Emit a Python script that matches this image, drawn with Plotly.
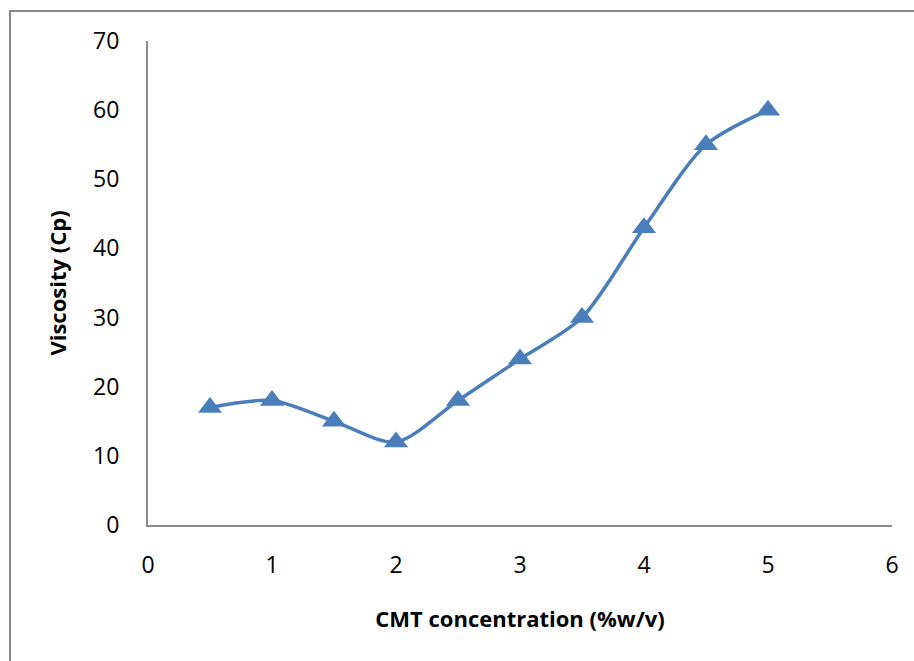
import plotly.graph_objects as go

concentration = [0.5, 1, 1.5, 2, 2.5, 3, 3.5, 4, 4.5, 5]
viscosity = [17, 18, 15, 12, 18, 24, 30, 43, 55, 60]
x_ticks = [0, 1, 2, 3, 4, 5, 6]
y_ticks = [0, 10, 20, 30, 40, 50, 60, 70]

color = "#4A7EBB"
font_family = "Open Sans, Liberation Sans, sans-serif"

fig = go.Figure()
fig.add_trace(go.Scatter(
    x=concentration, y=viscosity, mode="lines+markers",
    line=dict(color=color, width=3.5, shape="spline", smoothing=0.8),
    marker=dict(symbol="triangle-up", size=21, color=color),
    showlegend=False, cliponaxis=False,
))

fig.update_layout(
    width=914, height=661,
    margin=dict(l=148, r=22, t=41, b=136),
    paper_bgcolor="white", plot_bgcolor="white",
    font=dict(family=font_family, size=22, color="black"),
    shapes=[dict(type="rect", xref="paper", yref="paper",
                 x0=-138/744, x1=1.2, y0=-0.5, y1=(525-11)/484,
                 line=dict(color="#888888", width=2), layer="below")],
)
fig.update_xaxes(
    range=[0, 6], tickvals=x_ticks, showgrid=False, zeroline=False,
    showline=True, linecolor="#8c8c8c", linewidth=2, ticks="",
    tickfont=dict(size=23, family=font_family, color="black"),
    ticklabelstandoff=18,
    title=dict(text="<b>CMT concentration (%w/v)</b>",
               font=dict(size=22, family=font_family, color="black"), standoff=33),
)
fig.update_yaxes(
    range=[0, 70], tickvals=y_ticks, showgrid=False, zeroline=False,
    showline=True, linecolor="#8c8c8c", linewidth=2, ticks="",
    tickfont=dict(size=23, family=font_family, color="black"),
    ticklabelstandoff=22,
    title=dict(text="<b>Viscosity (Cp)</b>",
               font=dict(size=22, family=font_family, color="black"), standoff=20),
)

fig.write_html("out.html")
